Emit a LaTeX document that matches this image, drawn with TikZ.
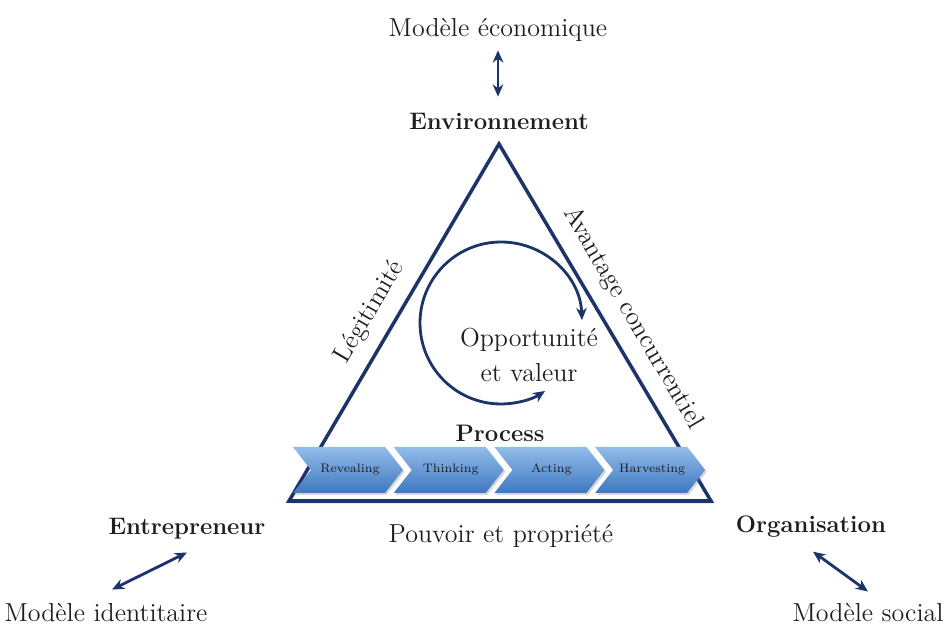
\documentclass[tikz,border=0pt]{standalone}
\usepackage{tikz}
\usetikzlibrary{arrows.meta,shadows,calc}
\definecolor{navy}{RGB}{28,52,105}
\definecolor{chevtop}{RGB}{146,188,234}
\definecolor{chevbot}{RGB}{62,120,192}
\definecolor{ink}{RGB}{30,30,30}

\begin{document}
\begin{tikzpicture}[x=0.02cm, y=0.02cm,
    txt/.style={anchor=base, inner sep=2pt, text=ink, font=\fontsize{14.8}{17}\selectfont},
    head/.style={anchor=base, inner sep=2pt, text=ink, font=\bfseries\fontsize{13.6}{16}\selectfont},
    side/.style={inner sep=2pt, text=ink, font=\fontsize{14.8}{17}\selectfont},
    steptxt/.style={anchor=base, inner sep=1pt, text=ink, font=\fontsize{7}{8}\selectfont},
    chev/.style={top color=chevtop, bottom color=chevbot, drop shadow={opacity=0.3, shadow xshift=1pt, shadow yshift=-1pt}},
    dbl/.style={{Stealth[length=7pt,width=6pt]}-{Stealth[length=7pt,width=6pt]}, line width=1.6pt, navy}
]
\useasboundingbox (0,0) rectangle (947,625);

% triangle
\coordinate (apex) at (499,481);
\coordinate (bl) at (289,124);
\coordinate (br) at (711,124);
\draw[navy, line width=2pt, line join=miter, fill=white,
      drop shadow={opacity=0.25, shadow xshift=1.5pt, shadow yshift=-1.5pt}]
  (apex) -- (bl) -- (br) -- cycle;

% corners
\node[txt] (eco) at (498,588) {Modèle économique};
\node[head] (env) at (499,495) {Environnement};
\node[head] (ent) at (187,90) {Entrepreneur};
\node[head] (org) at (811,92) {Organisation};
\node[txt, inner sep=0pt] (ident) at (106,3) {Modèle identitaire};
\node[txt, inner sep=0pt] (social) at (868,3) {Modèle social};

\draw[dbl, shorten <=2.5pt, shorten >=7.5pt] (eco.south) -- (eco.south |- env.north);
\draw[dbl] ([shift={(6,14)}]ident.north) -- ([shift={(0,-9)}]ent.south);
\draw[dbl] ([shift={(2,-10)}]org.south) -- ([shift={(0,12)}]social.north);

% sides
\node[side, rotate=59.5] (legit) at (370,313) {Légitimité};
\node[side, rotate=-59.5] (avant) at (633,307) {Avantage concurrentiel};
\node[txt] (pouv) at (501,82) {Pouvoir et propriété};

% cycle
\coordinate (cyc) at (501,302);
\draw[dbl] ([shift={(2:81)}]cyc) arc[start angle=2, end angle=303, radius=81];
\node[side, align=center, font=\fontsize{14.8}{19.8}\selectfont] (opp) at (529,270) {Opportunité\\et valeur};

% process
\node[head] (proc) at (500,183) {Process};
\foreach \lbl [count=\i] in {Revealing,Thinking,Acting,Harvesting}{
  \pgfmathsetmacro{\L}{293+100.7*(\i-1)}
  \path[chev] (\L,178) -- ++(92,0) -- ++(18,-23) -- ++(-18,-23) -- ++(-92,0) -- ++(18,23) -- cycle;
  \node[steptxt] (step\i) at (\L+57,152) {\lbl};
}

\end{tikzpicture}
\end{document}
